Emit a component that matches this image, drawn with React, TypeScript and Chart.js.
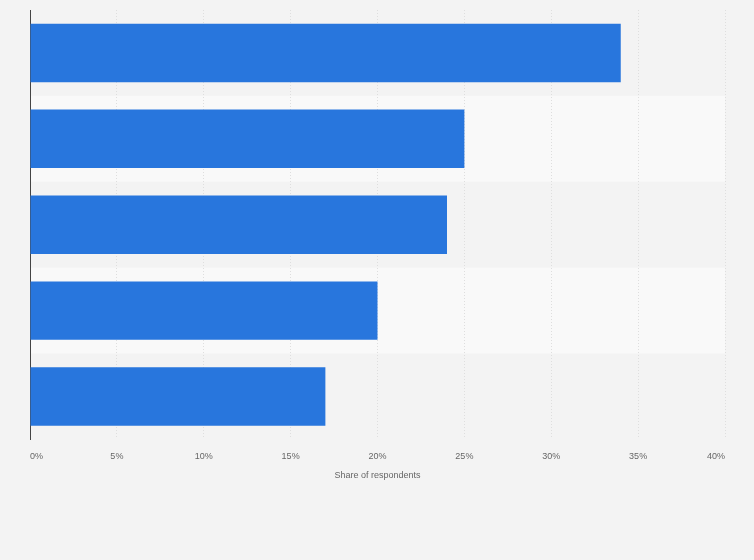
import { useEffect, useRef } from 'react'
import { Chart, registerables } from 'chart.js'

Chart.register(...registerables)

const categories = ['Item 1', 'Item 2', 'Item 3', 'Item 4', 'Item 5']
const shares = [34, 25, 24, 20, 17]
const xTicks = [0, 5, 10, 15, 20, 25, 30, 35, 40]

// alternating row shading, painted before the grid and axes
const bandPlugin = {
  id: 'bands',
  beforeDraw(chart: any) {
    const { ctx, chartArea, scales } = chart
    const y = scales.y
    const step = Math.abs(y.getPixelForValue(1) - y.getPixelForValue(0))
    ctx.save()
    ctx.fillStyle = '#f9f9f9'
    categories.forEach((_, i) => {
      if (i % 2 === 1) {
        const c = y.getPixelForValue(i)
        ctx.fillRect(chartArea.left, c - step / 2, chartArea.right - chartArea.left, step)
      }
    })
    ctx.restore()
  },
}

export default function App() {
  const ref = useRef<HTMLCanvasElement>(null)
  const chartRef = useRef<Chart | null>(null)

  useEffect(() => {
    document.body.style.margin = '0'
    document.body.style.background = '#f3f3f3'
    if (!ref.current) return
    if (chartRef.current) chartRef.current.destroy()

    chartRef.current = new Chart(ref.current, {
      type: 'bar',
      data: {
        labels: categories,
        datasets: [
          {
            data: shares,
            backgroundColor: '#2876dd',
            borderWidth: 0,
            barPercentage: 0.68,
            categoryPercentage: 1,
          },
        ],
      },
      options: {
        indexAxis: 'y',
        animation: false,
        responsive: true,
        maintainAspectRatio: false,
        layout: { padding: { left: 30, right: 29, top: 10, bottom: 75 } },
        plugins: { legend: { display: false }, tooltip: { enabled: false } },
        scales: {
          x: {
            min: 0,
            max: 40,
            afterBuildTicks: (axis: any) => {
              axis.ticks = xTicks.map((v) => ({ value: v }))
            },
            border: { display: false, dash: [1, 2] },
            grid: { color: '#dedede', drawTicks: false, lineWidth: 1 },
            ticks: {
              align: 'inner',
              padding: 12,
              color: '#666666',
              font: { family: 'Liberation Sans', size: 9 },
              callback: (v: any) => v + '%',
            },
            title: {
              display: true,
              text: 'Share of respondents',
              color: '#666666',
              font: { family: 'Liberation Sans', size: 9 },
              padding: { top: -4, bottom: 4 },
            },
          },
          y: {
            border: { display: true, color: '#444444', width: 1 },
            grid: { display: false, drawTicks: false },
            ticks: { display: false },
          },
        },
      },
      plugins: [bandPlugin],
    })

    return () => { chartRef.current?.destroy() }
  }, [])

  return (
    <div style={{ position: 'relative', width: 754, height: 560, background: '#f3f3f3' }}>
      <canvas ref={ref} />
    </div>
  )
}
